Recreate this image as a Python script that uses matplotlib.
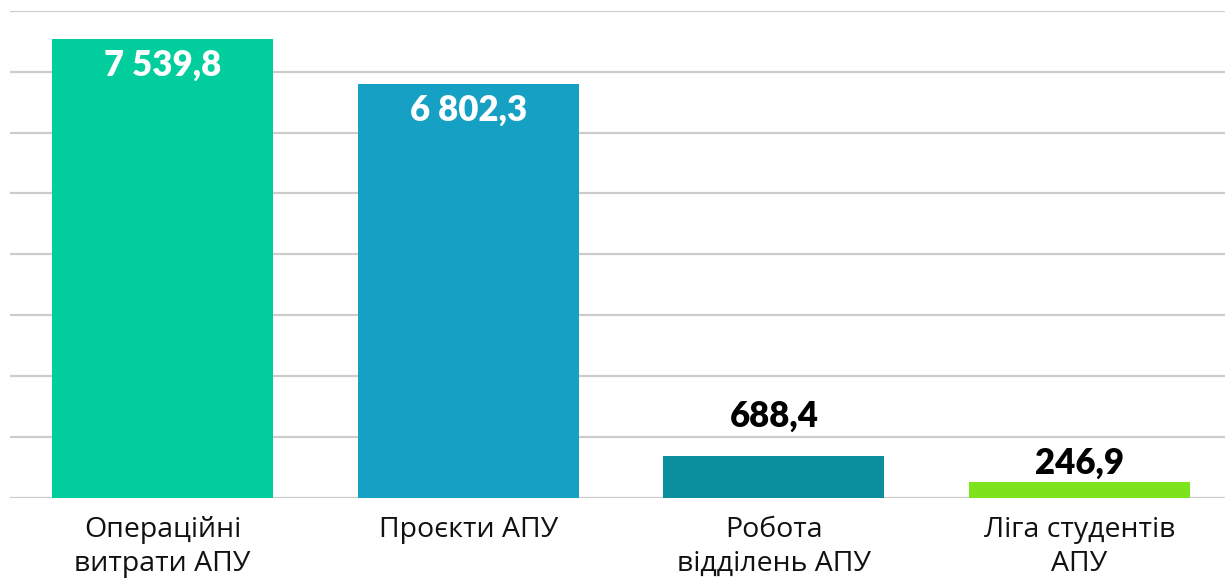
import matplotlib
matplotlib.use('Agg')
import matplotlib.pyplot as plt

# data
categories = ['Операційні\nвитрати АПУ', 'Проєкти АПУ', 'Робота\nвідділень АПУ', 'Ліга студентів\nАПУ']
values = [7539.8, 6802.3, 688.4, 246.9]
value_labels = ['7 539,8', '6 802,3', '688,4', '246,9']
colors = ['#02CD9C', '#16A0C4', '#0A8F9E', '#7DE31A']

fig = plt.figure(figsize=(12.25, 5.78), dpi=100)
ax = fig.add_axes([9.7 / 1225, 1 - 497.5 / 578, 1222.7 / 1225, (497.5 - 11) / 578])

x = range(len(categories))
bars = ax.bar(x, values, width=0.723, color=colors, zorder=3)

ax.set_xlim(-0.5, 3.5)
ax.set_ylim(0, 8000)
ax.set_yticks(range(0, 8001, 1000))
ax.yaxis.grid(True, color='#CCCCCC', linewidth=1.6, zorder=0)
ax.set_yticklabels([])
ax.tick_params(axis='y', length=0)
ax.tick_params(axis='x', length=0, pad=13)
ax.set_xticks(list(x))
ax.set_xticklabels(categories, fontsize=20.5, family='Open Sans', color='#111111', linespacing=1.32)
for s in ax.spines.values():
    s.set_visible(False)

# value labels: inside for tall bars, above for short ones
offsets = [-19, -19, 28, 14]
for b, lab, off in zip(bars, value_labels, offsets):
    inside = off < 0
    ax.annotate(lab, (b.get_x() + b.get_width() / 2, b.get_height()),
                textcoords='offset points', xytext=(0, off), ha='center', va='center',
                fontsize=25, fontweight='heavy', family='Lato',
                color='white' if inside else 'black', zorder=4)

fig.savefig('out.png', dpi=100)
